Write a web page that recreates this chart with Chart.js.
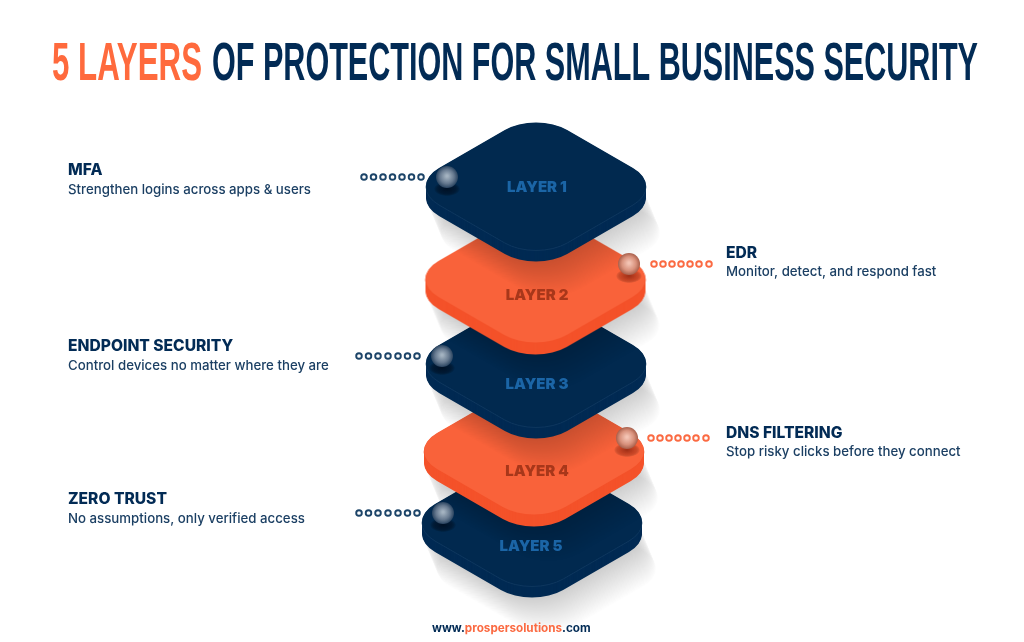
<!DOCTYPE html>
<html><head><meta charset="utf-8">
<style>html,body{margin:0;padding:0;background:#fff;width:1024px;height:642px;overflow:hidden}canvas{display:block}</style>
<script src="https://cdn.jsdelivr.net/npm/chart.js@4/dist/chart.umd.min.js"></script>
</head><body><canvas id="c" width="1024" height="642"></canvas>
<script>
const layerNames = ['LAYER 1','LAYER 2','LAYER 3','LAYER 4','LAYER 5'];
const layerX = [536,535.5,536,534,532];
const layerY = [186,279,363,451,522];
const layerLabelX = [537,537,537,537,531];
const layerLabelY = [187,295,384,471,546];
const layerTone = ['navy','orange','navy','orange','navy'];
const nodeX = [447,629,442,627,443];
const nodeY = [177,264,356,438,513];
const leaderY = [177,264,356,438,513];
const leader1X = [364,373.5,383,392.5,402,411.5,421];
const leader2X = [654,663,672,681,690,699,709];
const leader3X = [359,368.5,378,388,398,407.5,417];
const leader4X = [651,660,669,678,687,696,706];
const leader5X = [359,368.5,378,388,398,407.5,417];
const noteTitles = ['MFA','EDR','ENDPOINT SECURITY','DNS FILTERING','ZERO TRUST'];
const noteTexts = ['Strengthen logins across apps & users','Monitor, detect, and respond fast','Control devices no matter where they are','Stop risky clicks before they connect','No assumptions, only verified access'];
const noteX = [68,726,68,726,68];
const noteTitleY = [170,253,346,433,499];
const noteTextY = [190,272,366,452,519];

const PAL = {navy:{top:'#01294f',side:'#012a53',line:'#123a60',dot:'#1c4468',label:'#1b65a6',hi:'#a3b2c0',mid:'#66798f',edge:'#2a4460'},
             orange:{top:'#f9623a',side:'#f4522a',line:'#f4522a',dot:'#fb6a42',label:'#a8371a',hi:'#f3c3b3',mid:'#d8917c',edge:'#a85f4b'}};

function facePath(ctx,cx,cy){
  const s=148,r=36;
  ctx.save();ctx.transform(.866,.5,-.866,.5,cx,cy);
  ctx.beginPath();ctx.roundRect(-s/2,-s/2,s,s,r);ctx.restore();
}
function layerSprite(tone){
  const p=PAL[tone],W=320,H=280,c=document.createElement('canvas');
  c.width=W;c.height=H;const g=c.getContext('2d'),cx=W/2,cy=H/2;
  for(let i=48;i>=2;i-=1){
    facePath(g,cx+i*.3,cy+12+i*.72);
    g.fillStyle='rgba(20,20,30,0.0068)';g.fill();
  }
  for(let i=12;i>=1;i--){facePath(g,cx,cy+i);g.fillStyle=p.side;g.fill();}
  facePath(g,cx,cy+1);g.strokeStyle=p.line;g.lineWidth=.8;g.stroke();
  facePath(g,cx,cy);g.fillStyle=p.top;g.fill();
  return c;
}
function ballSprite(tone){
  const p=PAL[tone],c=document.createElement('canvas');c.width=48;c.height=64;
  const g=c.getContext('2d'),cx=24,cy=32,r=11;
  g.save();g.translate(cx,cy+12);g.scale(1,.55);
  const s=g.createRadialGradient(0,0,1,0,0,13);
  s.addColorStop(0,tone==='navy'?'rgba(0,10,25,.75)':'rgba(130,30,10,.7)');s.addColorStop(.65,tone==='navy'?'rgba(0,10,25,.5)':'rgba(130,30,10,.4)');s.addColorStop(1,'rgba(0,0,0,0)');
  g.fillStyle=s;g.beginPath();g.arc(0,0,13,0,7);g.fill();g.restore();
  const b=g.createRadialGradient(cx,cy-1,1,cx,cy,r);
  b.addColorStop(0,p.hi);b.addColorStop(.6,p.mid);b.addColorStop(1,p.edge);
  g.fillStyle=b;g.beginPath();g.arc(cx,cy,r,0,7);g.fill();
  return c;
}
const sprites={navy:layerSprite('navy'),orange:layerSprite('orange')};
const balls={navy:ballSprite('navy'),orange:ballSprite('orange')};

const datasets=[];
const leaders=[leader1X,leader2X,leader3X,leader4X,leader5X];
layerNames.forEach((n,i)=>{
  datasets.push({label:n,order:10+i,data:[{x:layerX[i],y:layerY[i]}],pointStyle:sprites[layerTone[i]],pointRadius:10,showLine:false});
});
layerNames.forEach((n,i)=>{
  const col=PAL[layerTone[i]].dot;
  datasets.push({label:n+' leader',order:5,data:leaders[i].map(x=>({x,y:leaderY[i]})),showLine:false,pointStyle:'circle',pointRadius:2.8,pointBorderWidth:1.9,pointBorderColor:col,pointBackgroundColor:'#fff'});
  datasets.push({label:n+' node',order:4,data:[{x:nodeX[i],y:nodeY[i]}],showLine:false,pointStyle:balls[layerTone[i]],pointRadius:10});
});

function fit(ctx,text,x,y,w){
  const m=ctx.measureText(text).width;ctx.save();ctx.translate(x,y);ctx.scale(w/m,1);ctx.fillText(text,0,0);ctx.restore();
}
const textPlugin={id:'text',afterDatasetsDraw(chart){
  const ctx=chart.ctx,X=chart.scales.x,Y=chart.scales.y;
  ctx.save();ctx.textBaseline='alphabetic';ctx.textAlign='left';
  ctx.font='700 53px "Liberation Sans Narrow","Liberation Sans"';
  ctx.fillStyle='#ff6a3d';fit(ctx,'5 LAYERS',52,80,150);
  ctx.fillStyle='#022b55';fit(ctx,'OF PROTECTION FOR SMALL BUSINESS SECURITY',212,80,766);
  ctx.textAlign='center';ctx.textBaseline='middle';ctx.font='900 15px Inter';
  layerNames.forEach((n,i)=>{ctx.fillStyle=PAL[layerTone[i]].label;ctx.fillText(n,X.getPixelForValue(layerLabelX[i]),Y.getPixelForValue(layerLabelY[i]));});
  ctx.textAlign='left';
  noteTitles.forEach((t,i)=>{
    ctx.fillStyle='#022b55';ctx.font='800 15.6px Inter';ctx.fillText(t,noteX[i],noteTitleY[i]);
    ctx.fillStyle='#1b3f63';ctx.font='500 13.25px Inter';ctx.fillText(noteTexts[i],noteX[i],noteTextY[i]);
  });
  ctx.font='700 11.7px Inter';let x=432;
  [['www.','#022b55'],['prospersolutions','#fb6a42'],['.com','#022b55']].forEach(([t,c])=>{ctx.fillStyle=c;ctx.fillText(t,x,628);x+=ctx.measureText(t).width;});
  ctx.restore();
}};
new Chart(document.getElementById('c'),{type:'scatter',data:{datasets},plugins:[textPlugin],options:{
  responsive:false,animation:false,events:[],layout:{padding:0,autoPadding:false},
  plugins:{legend:{display:false},tooltip:{enabled:false},title:{display:false}},
  scales:{x:{type:'linear',min:0,max:1024,display:false},y:{type:'linear',min:0,max:642,reverse:true,display:false}}
}});
</script></body></html>
